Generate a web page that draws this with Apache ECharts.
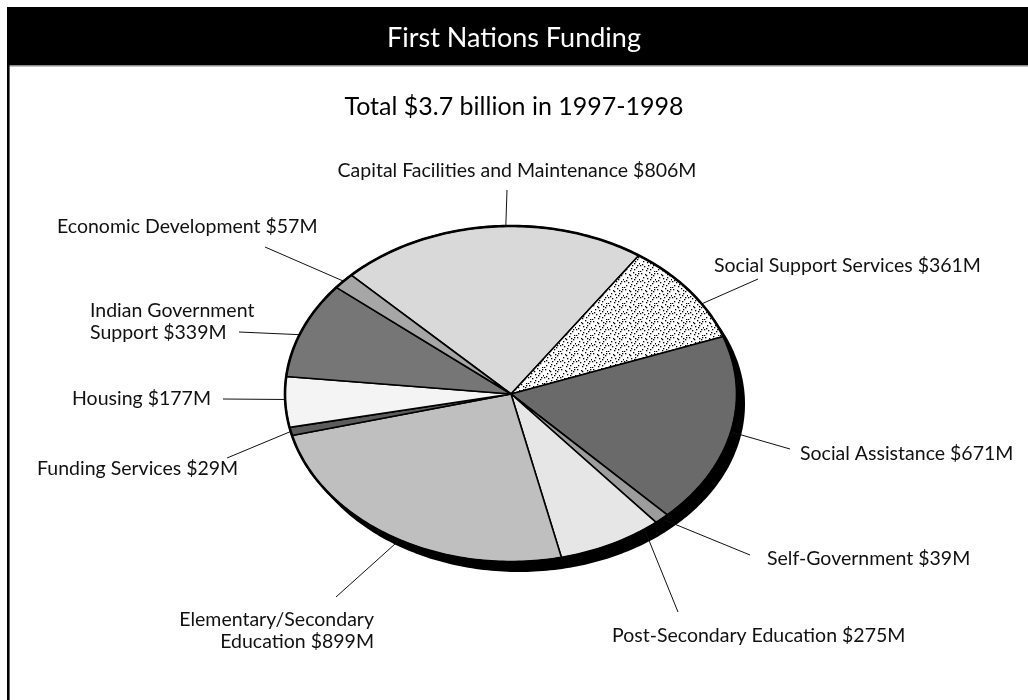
<!DOCTYPE html>
<html>
<head>
<meta charset="utf-8">
<script src="https://cdn.jsdelivr.net/npm/echarts@6/dist/echarts.min.js"></script>
<style>
html,body{margin:0;padding:0;background:#fff;}
#main{width:1028px;height:700px;}
</style>
</head>
<body>
<div id="main"></div>
<script>
// ---- data ----
const categories = [
  'Capital Facilities and Maintenance',
  'Social Support Services',
  'Social Assistance',
  'Self-Government',
  'Post-Secondary Education',
  'Elementary/Secondary\nEducation',
  'Funding Services',
  'Housing',
  'Indian Government\nSupport',
  'Economic Development'
];
const values = [806, 361, 671, 39, 275, 899, 29, 177, 339, 57];
const titleText = 'First Nations Funding';
const subtitleText = 'Total $3.7 billion in 1997-1998';

// ---- styles / layout (not data) ----
const FONT = 'Lato, "Open Sans", sans-serif';
const startAngle = -45; // degrees, clockwise from top
const fills = ['#d9d9d9', 'PATTERN', '#6a6a6a', '#9c9c9c', '#e6e6e6', '#bfbfbf', '#5c5c5c', '#f4f4f4', '#767676', '#a6a6a6'];
// label layout: text anchor, leader outer end, attach fraction within slice
const labelLayout = [
  {tx: 517, ty: 171, align: 'center', ex: 507, ey: 190, frac: 0.55},
  {tx: 714, ty: 266, align: 'left',   ex: 758, ey: 279, frac: 0.65},
  {tx: 800, ty: 454, align: 'left',   ex: 790, ey: 449, frac: 0.5},
  {tx: 767, ty: 559, align: 'left',   ex: 750, ey: 555, frac: 0.5},
  {tx: 612, ty: 636, align: 'left',   ex: 678, ey: 612, frac: 0.14},
  {tx: 374, ty: 631, align: 'right',  ex: 336, ey: 597, frac: 0.48},
  {tx: 37,  ty: 469, align: 'left',   ex: 227, ey: 458, frac: 0.5},
  {tx: 72,  ty: 399, align: 'left',   ex: 223, ey: 399, frac: 0.55},
  {tx: 90,  ty: 322, align: 'left',   ex: 239, ey: 332, frac: 0.44},
  {tx: 57,  ty: 227, align: 'left',   ex: 265, ey: 247, frac: 0.5}
];

// stipple pattern tile
function makeStipple() {
  const c = document.createElement('canvas');
  c.width = 16; c.height = 16;
  const g = c.getContext('2d');
  g.fillStyle = '#fff'; g.fillRect(0, 0, 16, 16);
  g.fillStyle = '#000';
  const dots = [[1,1],[5,2],[9,0],[13,3],[3,5],[7,6],[11,5],[15,7],[0,9],[4,10],[8,9],[12,11],
                [2,13],[6,14],[10,13],[14,15],[6,3],[14,1],[2,8],[10,7],[7,12],[13,9],[0,15],[11,2]];
  dots.forEach(d => g.fillRect(d[0], d[1], 1.3, 1.3));
  return c;
}
const stipple = {image: makeStipple(), repeat: 'repeat'};

// cumulative angles from values
const total = values.reduce((a, b) => a + b, 0);
let acc = startAngle;
const sliceData = values.map(v => {
  const a0 = acc;
  acc += v / total * 360;
  return [a0, acc, v];
});
const labels = categories.map((c, i) => c + ' $' + values[i] + 'M');

function ellPt(api, deg) {
  const a = deg * Math.PI / 180;
  return api.coord([Math.sin(a), Math.cos(a)]);
}
function ellipsePts(api, dx, dy) {
  const pts = [];
  for (let k = 0; k < 360; k++) {
    const p = ellPt(api, k);
    pts.push([p[0] + dx, p[1] + dy]);
  }
  return pts;
}

const chart = echarts.init(document.getElementById('main'), null, {renderer: 'canvas'});
chart.setOption({
  animation: false,
  backgroundColor: '#fff',
  title: [
    {text: titleText, left: 'center', top: 20,
     textStyle: {color: '#fff', fontSize: 27, fontWeight: 'normal', fontFamily: FONT}},
    {text: subtitleText, left: 'center', top: 89,
     textStyle: {color: '#000', fontSize: 25, fontWeight: 'normal', fontFamily: FONT}}
  ],
  graphic: [
    {type: 'rect', z: -1, shape: {x: 7, y: 7, width: 1021, height: 58}, style: {fill: '#000'}},
    {type: 'rect', z: -1, shape: {x: 7, y: 65, width: 1021, height: 1.5}, style: {fill: '#8a8a8a'}},
    {type: 'rect', z: -1, shape: {x: 7, y: 65, width: 2.6, height: 635}, style: {fill: '#000'}}
  ],
  grid: {left: 285, top: 226, width: 452, height: 336},
  xAxis: {type: 'value', min: -1, max: 1, show: false},
  yAxis: {type: 'value', min: -1, max: 1, show: false},
  series: [
    {
      type: 'custom', z: 1, silent: true, clip: false,
      data: [[0]],
      renderItem: function (params, api) {
        return {type: 'polygon', shape: {points: ellipsePts(api, 8, 10)}, style: {fill: '#000'}};
      }
    },
    {
      type: 'custom', z: 2, silent: true, clip: false,
      data: sliceData,
      renderItem: function (params, api) {
        const i = params.dataIndex;
        const a0 = api.value(0), a1 = api.value(1);
        const c = api.coord([0, 0]);
        const pts = [c];
        const n = Math.max(2, Math.ceil(a1 - a0));
        for (let k = 0; k <= n; k++) pts.push(ellPt(api, a0 + (a1 - a0) * k / n));
        const lay = labelLayout[i];
        const p = ellPt(api, a0 + (a1 - a0) * lay.frac);
        const fill = fills[i] === 'PATTERN' ? stipple : fills[i];
        return {
          type: 'group',
          children: [
            {type: 'polygon', shape: {points: pts},
             style: {fill: fill, stroke: '#000', lineWidth: 1.6, lineJoin: 'round'}},
            {type: 'line', shape: {x1: p[0], y1: p[1], x2: lay.ex, y2: lay.ey},
             style: {stroke: '#111', lineWidth: 1}},
            {type: 'text', x: lay.tx, y: lay.ty,
             style: {text: labels[i], fill: '#111', font: '19.5px ' + FONT,
                     align: lay.align, verticalAlign: 'middle', lineHeight: 22}}
          ]
        };
      }
    },
    {
      type: 'custom', z: 3, silent: true, clip: false,
      data: [[0]],
      renderItem: function (params, api) {
        return {type: 'polygon', shape: {points: ellipsePts(api, 0, 0)},
                style: {fill: 'none', stroke: '#000', lineWidth: 2.6}};
      }
    }
  ]
});
</script>
</body>
</html>
